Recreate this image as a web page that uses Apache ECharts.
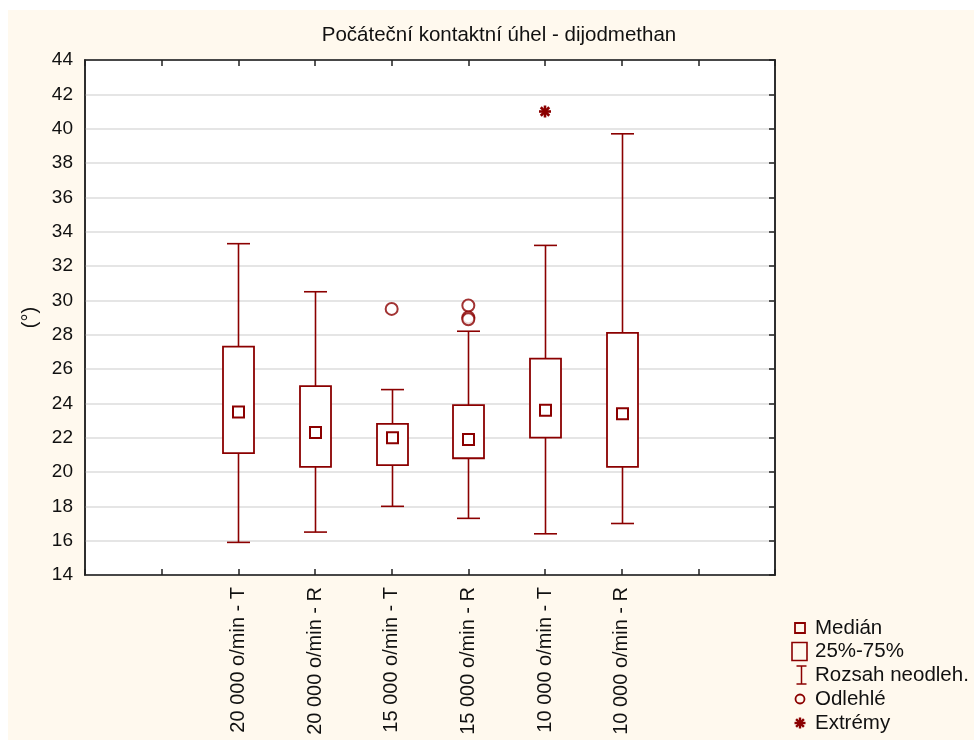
<!DOCTYPE html>
<html>
<head>
<meta charset="utf-8">
<script src="https://cdn.jsdelivr.net/npm/echarts@6/dist/echarts.min.js"></script>
<style>
html,body{margin:0;padding:0;background:#fff;width:974px;height:740px;overflow:hidden;}
#c{position:absolute;left:8px;top:10px;width:966px;height:730px;background:#fff9ee;}
</style>
</head>
<body>
<div id="c"></div>
<script>
// ---- data ----
const slotLabels = ['', '', '20 000 o/min - T', '20 000 o/min - R', '15 000 o/min - T', '15 000 o/min - R', '10 000 o/min - T', '10 000 o/min - R', '', ''];
const categories = ['20 000 o/min - T', '20 000 o/min - R', '15 000 o/min - T', '15 000 o/min - R', '10 000 o/min - T', '10 000 o/min - R'];
const whiskerLow  = [15.9, 16.5, 18.0, 17.3, 16.4, 17.0];
const q1          = [21.1, 20.3, 20.4, 20.8, 22.0, 20.3];
const median      = [23.5, 22.3, 22.0, 21.9, 23.6, 23.4];
const q3          = [27.3, 25.0, 22.8, 23.9, 26.6, 28.1];
const whiskerHigh = [33.3, 30.5, 24.8, 28.2, 33.2, 39.7];
const outlierCats = ['15 000 o/min - T', '15 000 o/min - R', '15 000 o/min - R', '15 000 o/min - R'];
const outlierVals = [29.5, 29.7, 29.0, 28.9];
const extremeCats = ['10 000 o/min - T'];
const extremeVals = [41.0];
const yTicks = {min: 14, max: 44, interval: 2};
const titleText = 'Počáteční kontaktní úhel - dijodmethan';
const yName = '(°)';
const legendLabels = ['Medián', '25%-75%', 'Rozsah neodleh.', 'Odlehlé', 'Extrémy'];

// ---- chart ----
const RED = '#8b0000';
const FONT = 'Liberation Sans, Arial, sans-serif';
const chart = echarts.init(document.getElementById('c'), null, {renderer: 'canvas'});

const boxData = categories.map((c, i) => [c, whiskerLow[i], q1[i], median[i], q3[i], whiskerHigh[i]]);
const outlierData = outlierCats.map((c, i) => [c, outlierVals[i]]);
const extremeData = extremeCats.map((c, i) => [c, extremeVals[i]]);

function renderBox(params, api) {
  const x = api.value(0);
  const pLow = api.coord([x, api.value(1)]);
  const pQ1 = api.coord([x, api.value(2)]);
  const pMed = api.coord([x, api.value(3)]);
  const pQ3 = api.coord([x, api.value(4)]);
  const pHigh = api.coord([x, api.value(5)]);
  const cx = Math.round(pMed[0]) + 0.5;
  const bw = 31, cw = 23, ms = 11;
  const ls = {stroke: RED, lineWidth: 1.6, fill: null};
  return {
    type: 'group',
    children: [
      {type: 'line', shape: {x1: cx, y1: pLow[1], x2: cx, y2: pQ1[1]}, style: ls},
      {type: 'line', shape: {x1: cx, y1: pQ3[1], x2: cx, y2: pHigh[1]}, style: ls},
      {type: 'line', shape: {x1: cx - cw / 2, y1: pLow[1], x2: cx + cw / 2, y2: pLow[1]}, style: ls},
      {type: 'line', shape: {x1: cx - cw / 2, y1: pHigh[1], x2: cx + cw / 2, y2: pHigh[1]}, style: ls},
      {type: 'rect', shape: {x: cx - bw / 2, y: pQ3[1], width: bw, height: pQ1[1] - pQ3[1]}, style: {stroke: RED, lineWidth: 1.8, fill: '#fff'}},
      {type: 'rect', shape: {x: cx - ms / 2, y: pMed[1] - ms / 2, width: ms, height: ms}, style: {stroke: RED, lineWidth: 2, fill: '#fff'}}
    ]
  };
}

function asterisk(cx, cy, r, w) {
  const ch = [];
  for (let k = 0; k < 4; k++) {
    const a = k * Math.PI / 4;
    ch.push({type: 'line', shape: {x1: cx - r * Math.cos(a), y1: cy - r * Math.sin(a), x2: cx + r * Math.cos(a), y2: cy + r * Math.sin(a)}, style: {stroke: RED, lineWidth: w}});
  }
  return ch;
}

function renderExtreme(params, api) {
  const p = api.coord([api.value(0), api.value(1)]);
  return {type: 'group', children: asterisk(p[0], p[1], 6, 2.6)};
}

// legend (graphic)
const lx = 792, lt = 807;
const legendY = [618, 641.5, 665, 689, 713];
const legendGraphic = [
  {type: 'rect', shape: {x: lx - 5, y: legendY[0] - 5, width: 10, height: 10}, style: {stroke: RED, lineWidth: 1.8, fill: null}},
  {type: 'rect', shape: {x: lx - 8, y: legendY[1] - 9, width: 15, height: 18}, style: {stroke: RED, lineWidth: 1.6, fill: null}},
  {type: 'line', shape: {x1: lx + 1.5, y1: legendY[2] - 9, x2: lx + 1.5, y2: legendY[2] + 9}, style: {stroke: RED, lineWidth: 1.5}},
  {type: 'line', shape: {x1: lx - 3.5, y1: legendY[2] - 9, x2: lx + 6.5, y2: legendY[2] - 9}, style: {stroke: RED, lineWidth: 1.5}},
  {type: 'line', shape: {x1: lx - 3.5, y1: legendY[2] + 9, x2: lx + 6.5, y2: legendY[2] + 9}, style: {stroke: RED, lineWidth: 1.5}},
  {type: 'circle', shape: {cx: lx, cy: legendY[3], r: 4.5}, style: {stroke: RED, lineWidth: 1.8, fill: null}},
  {type: 'group', children: asterisk(lx, legendY[4], 5.5, 2.4)}
];
legendLabels.forEach((t, i) => {
  legendGraphic.push({type: 'text', x: lt, y: legendY[i], style: {text: t, font: '20.5px ' + FONT, fill: '#111', textAlign: 'left', textVerticalAlign: 'middle'}});
});
legendGraphic.push({type: 'text', x: 491, y: 25, style: {text: titleText, font: '20.5px ' + FONT, fill: '#111', textAlign: 'center', textVerticalAlign: 'middle'}});

const option = {
  animation: false,
  backgroundColor: 'transparent',
  grid: {left: 77, right: 199, top: 50, bottom: 165, show: true, backgroundColor: '#fff', borderColor: '#222', borderWidth: 1.5},
  graphic: legendGraphic,
  xAxis: [
    {
      type: 'category', data: slotLabels, boundaryGap: false,
      axisLine: {show: true, onZero: false, lineStyle: {color: '#222', width: 1.5}},
      axisTick: {show: true, inside: true, length: 6, interval: 0, lineStyle: {color: '#222', width: 1.5}},
      axisLabel: {rotate: 90, interval: 0, fontSize: 20, fontFamily: FONT, color: '#111', margin: 12},
      splitLine: {show: false}
    },
    {
      type: 'category', data: slotLabels, boundaryGap: false, position: 'top',
      axisLine: {show: true, onZero: false, lineStyle: {color: '#222', width: 1.5}},
      axisTick: {show: true, inside: true, length: 6, interval: 0, lineStyle: {color: '#222', width: 1.5}},
      axisLabel: {show: false}, splitLine: {show: false}
    }
  ],
  yAxis: [
    {
      type: 'value', min: yTicks.min, max: yTicks.max, interval: yTicks.interval,
      name: yName, nameLocation: 'middle', nameGap: 45, nameRotate: 90,
      nameTextStyle: {fontSize: 20, fontFamily: FONT, color: '#111'},
      axisLine: {show: true, lineStyle: {color: '#222', width: 1.5}},
      axisTick: {show: false},
      axisLabel: {fontSize: 19, fontFamily: FONT, color: '#111', margin: 12},
      splitLine: {show: true, lineStyle: {color: '#dcdcdc', width: 1.5}}
    },
    {
      type: 'value', min: yTicks.min, max: yTicks.max, interval: yTicks.interval, position: 'right',
      axisLine: {show: true, lineStyle: {color: '#222', width: 1.5}},
      axisTick: {show: true, inside: true, length: 6, lineStyle: {color: '#222', width: 1.5}},
      axisLabel: {show: false}, splitLine: {show: false}
    }
  ],
  series: [
    {type: 'custom', renderItem: renderBox, data: boxData, encode: {x: 0, y: [1, 2, 3, 4, 5]}, z: 5},
    {type: 'scatter', data: outlierData, symbol: 'circle', symbolSize: 12, itemStyle: {color: '#fff', borderColor: RED, borderWidth: 2}, z: 6},
    {type: 'custom', renderItem: renderExtreme, data: extremeData, encode: {x: 0, y: 1}, z: 6}
  ]
};
chart.setOption(option);
</script>
</body>
</html>
